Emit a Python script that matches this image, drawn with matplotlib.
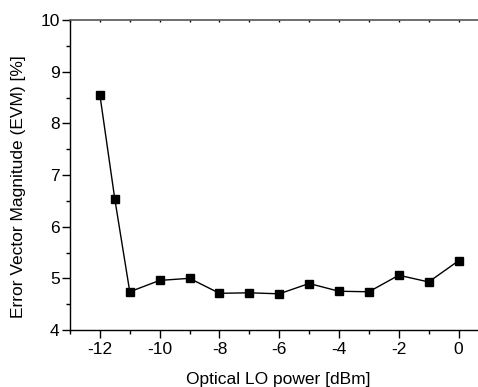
import matplotlib
matplotlib.use("Agg")
import matplotlib.pyplot as plt
from matplotlib.ticker import MultipleLocator

lo_power = [-12, -11.5, -11, -10, -9, -8, -7, -6, -5, -4, -3, -2, -1, 0]
evm = [8.55, 6.53, 4.74, 4.96, 5.00, 4.71, 4.72, 4.70, 4.90, 4.75, 4.74, 5.06, 4.93, 5.34]
xticks = [-12, -10, -8, -6, -4, -2, 0]
yticks = [4, 5, 6, 7, 8, 9, 10]

plt.rcParams['font.family'] = ['Liberation Sans', 'DejaVu Sans']

fig = plt.figure(figsize=(4.78, 3.87), dpi=100)
ax = fig.add_axes([70/478, 1-330/387, 1-70/478, 310/387])

ax.plot(lo_power, evm, color='black', linewidth=1.0, marker='s',
        markersize=5.2, markerfacecolor='black', markeredgecolor='black')

ax.set_xlim(-13, 0.65)
ax.set_ylim(4, 10)
ax.set_xticks(xticks)
ax.set_xticklabels([str(t) for t in xticks])
ax.set_yticks(yticks)
ax.set_yticklabels([str(t) for t in yticks])
ax.xaxis.set_minor_locator(MultipleLocator(1))
ax.yaxis.set_minor_locator(MultipleLocator(0.5))

ax.spines['right'].set_visible(False)
ax.spines['top'].set_color('#555555')
ax.spines['top'].set_linewidth(1.2)
for s in ['left', 'bottom']:
    ax.spines[s].set_linewidth(1.0)
    ax.spines[s].set_color('black')

fs = 12.5
ax.tick_params(axis='both', which='major', direction='out', length=5.5, width=1.0,
               labelsize=fs, colors='black')
ax.tick_params(axis='both', which='minor', direction='out', length=3, width=1.0)
ax.tick_params(axis='x', which='both', top=True, bottom=True, pad=3)
ax.tick_params(axis='y', which='major', pad=2)
for t in ax.xaxis.get_major_ticks() + ax.xaxis.get_minor_ticks():
    t.tick2line.set_markersize(1.5)
    t.tick2line.set_marker(3)

ax.set_xlabel('Optical LO power [dBm]', fontsize=fs, labelpad=11)
ax.set_ylabel('Error Vector Magnitude (EVM) [%]', fontsize=fs, labelpad=10)
ax.yaxis.label.set_y(0.461)
ax.xaxis.label.set_x(0.51)

fig.savefig('out.png', dpi=100)
